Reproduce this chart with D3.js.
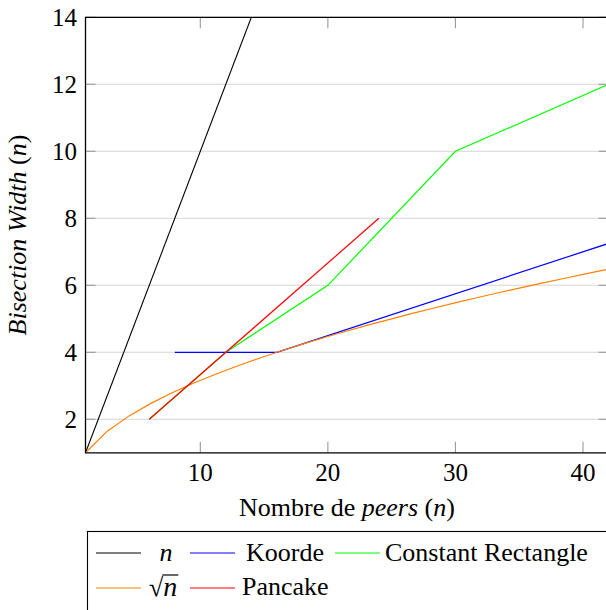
<!DOCTYPE html>
<html>
<head>
<meta charset="utf-8">
<script src="https://cdn.jsdelivr.net/npm/d3@7"></script>
</head>
<body style="margin:0;padding:0;background:#fff">
<svg id="fig" width="606" height="610" style="display:block"></svg>
<script>
// ---- data ----
const xTicks = [10, 20, 30, 40];
const yTicks = [2, 4, 6, 8, 10, 12, 14];

const nX = [1, 42];
const nY = [1, 42];

const koordeX = [8, 16, 42];
const koordeY = [4, 4, 7.25];

const rectX = [6, 12, 20, 30, 42];
const rectY = [2, 4, 6, 10, 12];

const sqrtX = [1, 2.708, 4.417, 6.125, 7.833, 9.542, 11.25, 12.958, 14.667, 16.375, 18.083, 19.792, 21.5, 23.208, 24.917, 26.625, 28.333, 30.042, 31.75, 33.458, 35.167, 36.875, 38.583, 40.292, 42];
const sqrtY = [1, 1.646, 2.102, 2.475, 2.799, 3.089, 3.354, 3.600, 3.830, 4.047, 4.252, 4.449, 4.637, 4.817, 4.992, 5.160, 5.323, 5.481, 5.635, 5.784, 5.930, 6.072, 6.211, 6.348, 6.481];

const pancakeX = [6, 24];
const pancakeY = [2, 8];

const seriesNames = ["n", "Koorde", "Constant Rectangle", "sqrt", "Pancake"];
const seriesColors = ["#000000", "#0000ff", "#00ff00", "#ff8000", "#ff0000"];

const FONT_NAME = "Liberation Serif";
function setFont(sel, size) {
  sel.style("font-size", size + "px", "important")
     .style("font-family", `"${FONT_NAME}"`, "important");
  return sel;
}

// ---- layout ----
const L = 85.5, R = 608.5, T = 17.3, B = 452.8;
const svg = d3.select("#fig");
const x = d3.scaleLinear().domain([1, 42]).range([L, R]);
const y = d3.scaleLinear().domain([1, 14]).range([B, T]);

svg.append("defs").append("clipPath").attr("id", "clip")
  .append("rect").attr("x", L).attr("y", T).attr("width", R - L).attr("height", B - T);

// grid
svg.append("g").selectAll("line").data(yTicks).join("line")
  .attr("x1", L).attr("x2", R)
  .attr("y1", d => y(d)).attr("y2", d => y(d))
  .attr("stroke", "#d4d4d4").attr("stroke-width", 1.1);

// ticks (gray)
const tk = svg.append("g").attr("stroke", "#9a9a9a").attr("stroke-width", 1.1);
xTicks.forEach(v => {
  tk.append("line").attr("x1", x(v)).attr("x2", x(v)).attr("y1", B).attr("y2", B - 11);
  tk.append("line").attr("x1", x(v)).attr("x2", x(v)).attr("y1", T).attr("y2", T + 11);
});
yTicks.forEach(v => {
  tk.append("line").attr("x1", L).attr("x2", L + 10).attr("y1", y(v)).attr("y2", y(v));
  tk.append("line").attr("x1", R).attr("x2", R - 10).attr("y1", y(v)).attr("y2", y(v));
});

// series
const line = d3.line().x(d => x(d[0])).y(d => y(d[1]));
const allSeries = [
  d3.zip(nX, nY),
  d3.zip(koordeX, koordeY),
  d3.zip(rectX, rectY),
  d3.zip(sqrtX, sqrtY),
  d3.zip(pancakeX, pancakeY)
];
const gLines = svg.append("g").attr("clip-path", "url(#clip)");
allSeries.forEach((s, i) => {
  gLines.append("path").attr("d", line(s))
    .attr("fill", "none").attr("stroke", seriesColors[i])
    .attr("stroke-width", i === 0 ? 1.1 : 1.2);
});

// frame
const fr = svg.append("g").attr("stroke", "#000").attr("stroke-width", 1.3).attr("fill", "none");
fr.append("path").attr("d", `M${R},${T}H${L}V${B}H${R}V${T}`);

// tick labels
setFont(svg.selectAll("text.xt").data(xTicks).join("text").attr("class", "xt")
  .attr("x", d => x(d)).attr("y", 481)
  .attr("text-anchor", "middle"), 25)
  .text(d => d);
setFont(svg.selectAll("text.yt").data(yTicks).join("text").attr("class", "yt")
  .attr("x", 77).attr("y", d => y(d) + 8.5)
  .attr("text-anchor", "end"), 25)
  .text(d => d);

// x axis label
const xl = setFont(svg.append("text").attr("x", (L + R) / 2).attr("y", 516)
  .attr("text-anchor", "middle"), 26);
xl.append("tspan").text("Nombre de ");
xl.append("tspan").style("font-style", "italic").text("peers");
xl.append("tspan").text(" (");
xl.append("tspan").style("font-style", "italic").text("n");
xl.append("tspan").text(")");

// y axis label
const yl = setFont(svg.append("text")
  .attr("transform", `translate(26,${(T + B) / 2}) rotate(-90)`)
  .attr("text-anchor", "middle"), 26);
yl.append("tspan").style("font-style", "italic").text("Bisection Width");
yl.append("tspan").text(" (");
yl.append("tspan").style("font-style", "italic").text("n");
yl.append("tspan").text(")");

// legend
svg.append("rect").attr("x", 87.5).attr("y", 531.5).attr("width", 530).attr("height", 100)
  .attr("fill", "#fff").attr("stroke", "#000").attr("stroke-width", 1.1);
const legendItems = [
  { i: 0, lx: 96, ly: 553, tx: 166, ty: 561, anchor: "middle" },
  { i: 1, lx: 190, ly: 553, tx: 246, ty: 561, anchor: "start" },
  { i: 2, lx: 335, ly: 553, tx: 385, ty: 561, anchor: "start" },
  { i: 3, lx: 96, ly: 588, tx: 149, ty: 596, anchor: "start" },
  { i: 4, lx: 190, ly: 588, tx: 242, ty: 595, anchor: "start" }
];
legendItems.forEach(it => {
  svg.append("line").attr("x1", it.lx).attr("x2", it.lx + 45)
    .attr("y1", it.ly).attr("y2", it.ly)
    .attr("stroke", seriesColors[it.i]).attr("stroke-width", 1.2);
  const t = setFont(svg.append("text").attr("x", it.tx).attr("y", it.ty)
    .attr("text-anchor", it.anchor), 26);
  const name = seriesNames[it.i];
  if (name === "n") {
    t.style("font-style", "italic").text("n");
  } else if (name === "sqrt") {
    t.append("tspan").text("\u221A");
    t.append("tspan").style("font-style", "italic").style("font-size", "28px").text("n");
    const node = t.node();
    const wr = node.getSubStringLength(0, 1);
    const wt = node.getComputedTextLength();
    svg.append("line").attr("x1", it.tx + wr - 1).attr("x2", it.tx + wt + 1)
      .attr("y1", it.ty - 21).attr("y2", it.ty - 21)
      .attr("stroke", "#000").attr("stroke-width", 1.2);
  } else {
    t.text(name);
  }
});
</script>
</body>
</html>
